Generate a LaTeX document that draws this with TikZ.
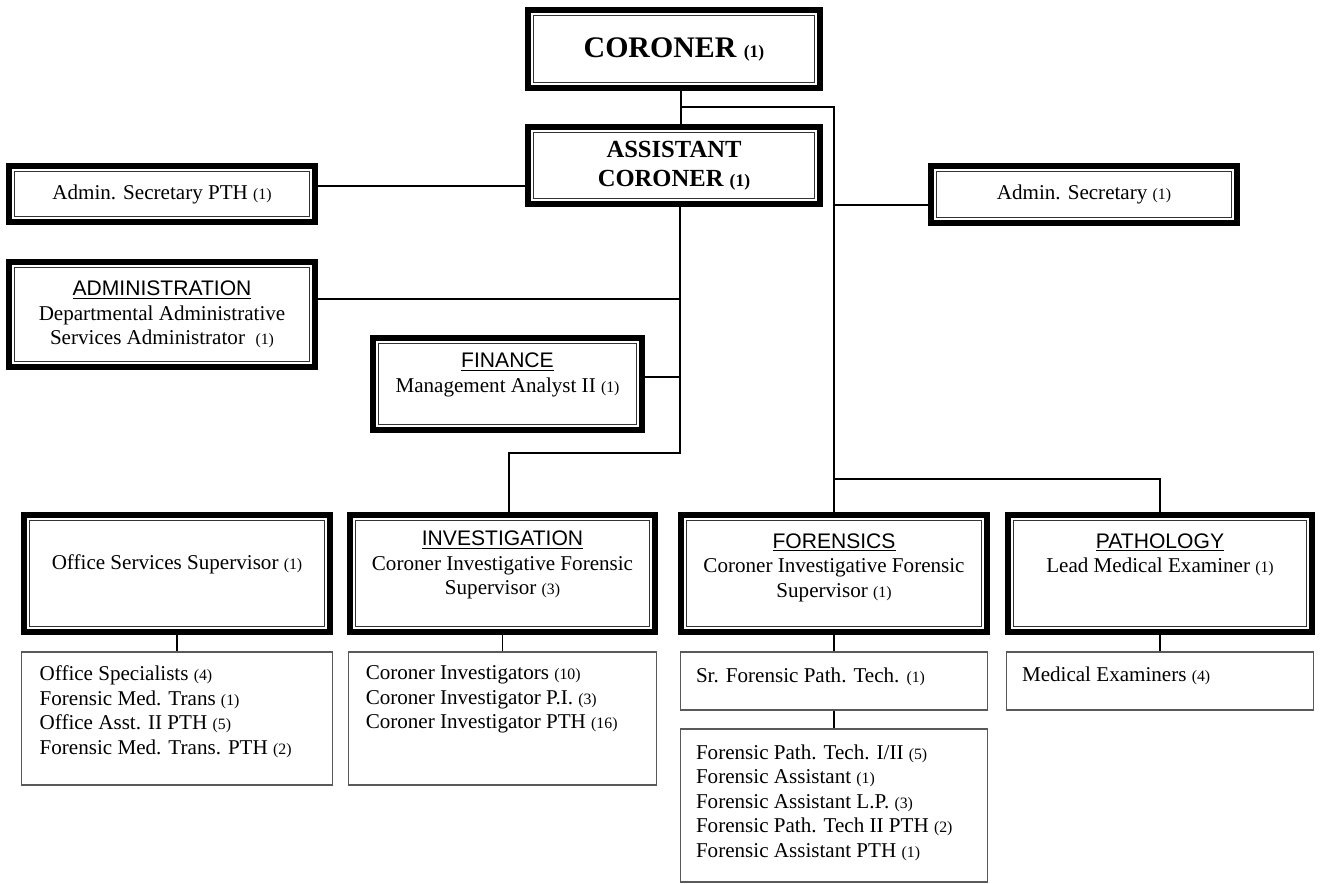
\documentclass[tikz,border=0pt]{standalone}
\usepackage{fontspec}
\setmainfont{Liberation Serif}
\newfontfamily\headfont{Liberation Sans}
\usetikzlibrary{positioning}

\newcommand{\txt}{\fontsize{12}{14}\selectfont}
\newcommand{\cnt}[1]{{\fontsize{9}{10}\selectfont(#1)}}
\newcommand{\head}[1]{\underline{\headfont #1}}

\tikzset{
    dept/.style={draw, line width=3.4pt, inner sep=0pt, align=center,
        path picture={\draw[line width=0.6pt, black!80] ([shift={(3pt,3pt)}]path picture bounding box.south west) rectangle ([shift={(-3pt,-3pt)}]path picture bounding box.north east);}},
    listbox/.style={draw=black!65, line width=0.8pt, inner sep=0pt},
    caption/.style={inner sep=0pt, align=center},
    boxsize/.style 2 args={minimum width=#1*0.569pt, minimum height=#2*0.569pt},
    link/.style={line width=0.8pt}
}

\begin{document}
\begin{tikzpicture}[x=0.02cm, y=-0.02cm, every node/.style={font=\txt}]
    \useasboundingbox (0,0) rectangle (1322,884);
    % top of the chart
    \node[dept, boxsize={292}{78}, font=\fontsize{17}{20}\selectfont\bfseries] (coroner) at (674,49) {CORONER {\fontsize{10}{12}\selectfont(1)}};
    \node[dept, boxsize={292}{77}, font=\fontsize{14}{16.5}\selectfont\bfseries] (asst) at (674,165.5) {ASSISTANT\\ CORONER {\fontsize{10}{12}\selectfont(1)}};
    \node[dept, boxsize={306}{56}] (adminpth) at (162,194) {Admin. Secretary PTH \cnt{1}};
    \node[dept, boxsize={306}{57}] (adminsec) at (1084,194.5) {Admin. Secretary \cnt{1}};
    % staff units
    \node[dept, boxsize={306}{105}] (admin) at (162,314.5) {\head{ADMINISTRATION}\\ Departmental Administrative\\ Services Administrator\ \ \cnt{1}};
    \node[dept, boxsize={269}{92}] (finance) at (507.5,384) {};
    \node[caption, below=10pt of finance.north] (finance text) {\head{FINANCE}\\ Management Analyst II \cnt{1}};
    % divisions
    \node[dept, boxsize={306}{117}] (office) at (177,573.5) {};
    \node[caption, below=24pt of office.north] (office text) {Office Services Supervisor \cnt{1}};
    \node[dept, boxsize={305}{117}] (invest) at (502.5,573.5) {};
    \node[caption, below=10.5pt of invest.north] (invest text) {\head{INVESTIGATION}\\ Coroner Investigative Forensic\\ Supervisor \cnt{3}};
    \node[dept, boxsize={306}{117}] (forens) at (834,573.5) {};
    \node[caption, below=12pt of forens.north] (forens text) {\head{FORENSICS}\\ Coroner Investigative Forensic\\ Supervisor \cnt{1}};
    \node[dept, boxsize={304}{117}] (patho) at (1160,573.5) {};
    \node[caption, below=12pt of patho.north] (patho text) {\head{PATHOLOGY}\\ Lead Medical Examiner \cnt{1}};
    % staff lists
    \node[listbox, boxsize={311}{133}] (officelist) at (177,718.5) {};
    \node[caption, align=left, below right=8pt and 10.5pt of officelist.north west] (officelist text) {Office Specialists \cnt{4}\\ Forensic Med. Trans \cnt{1}\\ Office Asst. II PTH \cnt{5}\\ Forensic Med. Trans. PTH \cnt{2}};
    \node[listbox, boxsize={308}{133}] (invlist) at (502.5,718.5) {};
    \node[caption, align=left, below right=8pt and 10pt of invlist.north west] (invlist text) {Coroner Investigators \cnt{10}\\ Coroner Investigator P.I. \cnt{3}\\ Coroner Investigator PTH \cnt{16}};
    \node[listbox, boxsize={307}{58}] (srtech) at (834,681) {};
    \node[caption, align=left, below right=9.5pt and 9pt of srtech.north west] (srtech text) {Sr. Forensic Path. Tech. \cnt{1}};
    \node[listbox, boxsize={307}{58}] (medex) at (1160,681) {};
    \node[caption, align=left, below right=8.5pt and 9pt of medex.north west] (medex text) {Medical Examiners \cnt{4}};
    \node[listbox, boxsize={307}{153}] (forlist) at (834,805.5) {};
    \node[caption, align=left, below right=9pt and 9pt of forlist.north west] (forlist text) {Forensic Path. Tech. I/II \cnt{5}\\ Forensic Assistant \cnt{1}\\ Forensic Assistant L.P. \cnt{3}\\ Forensic Path. Tech II PTH \cnt{2}\\ Forensic Assistant PTH \cnt{1}};
    % connectors
    \coordinate (jtop) at (681,107);
    \coordinate (jsec) at (834,205);
    \coordinate (jpath) at (834,479);
    \coordinate (jadm) at (680,299);
    \coordinate (jfin) at (680,377);
    \coordinate (jinv) at (680,453);
    \draw[link] (coroner.south -| jtop) -- (asst.north -| jtop);
    \draw[link] (jtop) -| (forens.north);
    \draw[link] (jsec) -- (adminsec.west |- jsec);
    \draw[link] (jpath) -| (patho.north);
    \draw[link] (asst.west |- 0,186) -- (adminpth.east |- 0,186);
    \draw[link] (asst.south -| jinv) -- (jinv) -| (invest.north -| 509,0);
    \draw[link] (admin.east |- jadm) -- (jadm);
    \draw[link] (finance.east |- jfin) -- (jfin);
    \draw[link] (office.south) -- (officelist.north);
    \draw[link] (invest.south) -- (invlist.north);
    \draw[link] (forens.south) -- (srtech.north);
    \draw[link] (srtech.south) -- (forlist.north);
    \draw[link] (patho.south) -- (medex.north);
\end{tikzpicture}
\end{document}
